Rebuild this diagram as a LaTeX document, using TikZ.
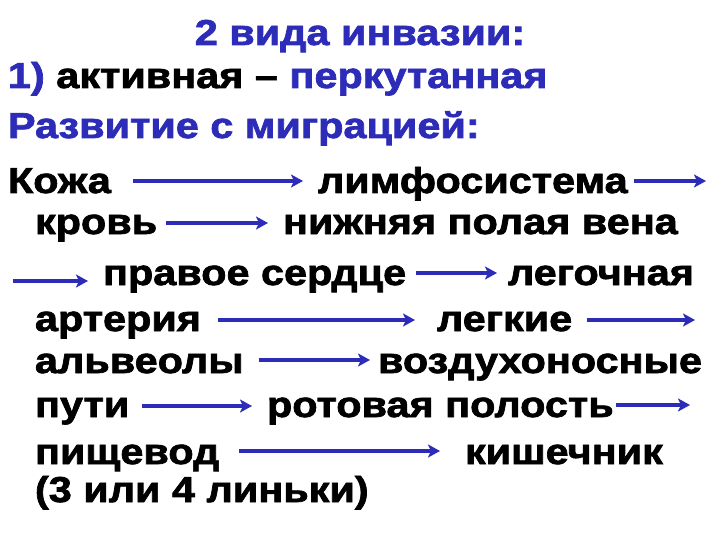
\documentclass[tikz,border=0pt]{standalone}
\usepackage{fontspec}
\setmainfont{Liberation Sans}[BoldFeatures={FakeStretch=1.15, FakeBold=2}]
\usetikzlibrary{arrows.meta}
\definecolor{invblue}{RGB}{44,44,184}
\tikzset{
  word/.style={anchor=base west, inner sep=0pt, outer sep=0pt,
    font=\bfseries\fontsize{36}{40}\selectfont},
  flow/.style={invblue, line width=4.5pt,
    -{Stealth[length=12pt,width=13pt,inset=3pt]}},
}
\begin{document}
\begin{tikzpicture}[x=1pt, y=-1pt]
    \useasboundingbox[fill=white] (0,0) rectangle (720,540);
    % Heading
    \node[word, anchor=base, text=invblue] (title) at (360,45) {2 вида инвазии:};
    \node[word] (kind) at (8,88) {\textcolor{invblue}{1)} активная – \textcolor{invblue}{перкутанная}};
    \node[word, text=invblue] (dev) at (8,138) {Развитие с миграцией:};

    % Route of migration
    \node[word] (skin) at (8,193) {Кожа};
    \node[word] (lymph) at (318,193) {лимфосистема};
    \coordinate (lymphout) at (706,181);
    \node[word] (blood) at (35,234) {кровь};
    \node[word] (vein) at (283,234) {нижняя полая вена};
    \coordinate (veinout) at (13,281);
    \node[word] (heart) at (103,285) {правое сердце};
    \node[word] (pulm) at (508,285) {легочная};
    \node[word] (artery) at (35,331) {артерия};
    \node[word] (lungs) at (437,331) {легкие};
    \coordinate (lungsout) at (695,320);
    \node[word] (alv) at (35,373) {альвеолы};
    \node[word] (air) at (378,373) {воздухоносные};
    \node[word] (ways) at (35,417) {пути};
    \node[word] (mouth) at (267,417) {ротовая полость};
    \coordinate (mouthout) at (690,405);
    \node[word] (gullet) at (35,464) {пищевод};
    \node[word] (gut) at (465,464) {кишечник};
    \node[word] (molts) at (35,502) {(3 или 4 линьки)};

    % Arrows
    \draw[flow, shorten <=22pt, shorten >=15pt] ([yshift=12pt]skin.base east) -- ([yshift=12pt]lymph.base west);
    \draw[flow, shorten <=6pt] ([yshift=12pt]lymph.base east) -- (lymphout);
    \draw[flow, shorten <=9pt, shorten >=15pt] ([yshift=11pt]blood.base east) -- ([yshift=11pt]vein.base west);
    \draw[flow, shorten >=15pt] (veinout) -- ([yshift=4pt]heart.base west);
    \draw[flow, shorten <=10pt, shorten >=11pt] ([yshift=12pt]heart.base east) -- ([yshift=12pt]pulm.base west);
    \draw[flow, shorten <=17pt, shorten >=22pt] ([yshift=11pt]artery.base east) -- ([yshift=11pt]lungs.base west);
    \draw[flow, shorten <=15pt] ([yshift=11pt]lungs.base east) -- (lungsout);
    \draw[flow, shorten <=15pt, shorten >=8pt] ([yshift=13pt]alv.base east) -- ([yshift=13pt]air.base west);
    \draw[flow, shorten <=13pt, shorten >=15pt] ([yshift=11pt]ways.base east) -- ([yshift=11pt]mouth.base west);
    \draw[flow, shorten <=2pt] ([yshift=12pt]mouth.base east) -- (mouthout);
    \draw[flow, shorten <=20pt, shorten >=25pt] ([yshift=13pt]gullet.base east) -- ([yshift=13pt]gut.base west);
\end{tikzpicture}
\end{document}
